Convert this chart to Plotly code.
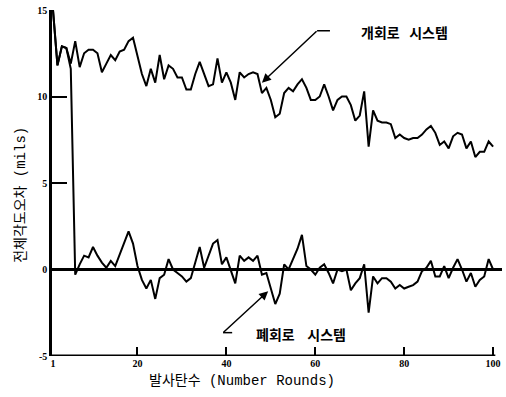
import plotly.graph_objects as go

rounds = list(range(1, 101))

open_loop = [15.0, 11.8, 12.9, 12.8, 11.9, 13.2, 11.7, 12.5, 12.7, 12.7,
             12.5, 11.4, 11.9, 12.4, 12.1, 12.6, 12.7, 13.2, 13.4, 12.3,
             11.3, 10.6, 11.6, 10.8, 12.4, 11.0, 11.8, 11.6, 11.1, 11.1,
             10.4, 10.4, 11.3, 12.0, 11.3, 10.6, 10.7, 12.2, 10.8, 11.4,
             10.8, 9.8, 11.4, 11.1, 11.3, 11.4, 11.3, 10.2, 10.5, 9.8,
             8.8, 9.0, 10.2, 10.5, 10.3, 10.7, 11.0, 10.5, 9.8, 9.8,
             10.0, 10.7, 10.0, 9.2, 9.8, 10.0, 10.0, 9.5, 8.6, 8.9,
             10.3, 7.1, 9.2, 8.6, 8.5, 8.5, 8.4, 7.6, 7.8, 7.6,
             7.5, 7.6, 7.6, 7.8, 8.1, 8.3, 7.9, 7.2, 7.4, 7.0,
             7.7, 7.9, 7.8, 7.0, 7.4, 6.5, 6.8, 6.8, 7.4, 7.1]

closed_loop = [15.0, 11.8, 12.9, 12.8, 11.6, -0.3, 0.3, 0.8, 0.7, 1.3,
               0.8, 0.4, 0.1, 0.5, 0.2, 0.9, 1.6, 2.2, 1.5, 0.2,
               -0.6, -1.1, -0.6, -1.7, -0.5, -0.3, 0.6, 0.0, -0.2, -0.4,
               -0.7, -0.5, 0.4, 1.3, 0.1, 0.8, 1.5, 1.7, 0.3, 0.7,
               0.0, -0.8, 0.8, 0.5, 0.7, 0.5, 0.8, -0.3, -0.2, -1.1,
               -2.0, -1.4, 0.3, 0.0, 0.6, 1.2, 2.0, 0.2, 0.0, -0.3,
               0.1, 0.3, -0.2, -0.8, 0.0, -0.1, 0.0, -1.2, -0.8, -0.5,
               0.3, -2.5, -0.4, -0.8, -0.5, -0.5, -0.7, -1.1, -0.9, -1.1,
               -1.0, -0.9, -0.7, -0.1, 0.1, 0.5, -0.4, -0.4, 0.2, -0.5,
               0.1, 0.6, 0.0, -0.7, -0.2, -1.0, -0.6, -0.4, 0.6, 0.0]

x_ticks = [1, 20, 40, 60, 80, 100]
y_ticks = [-5, 0, 5, 10, 15]

open_label = "개회로   시스템"
closed_label = "폐회로    시스템"
x_title = "발사탄수 (Number Rounds)"
y_title = "전체각도오차 (mils)"

fig = go.Figure()
fig.add_trace(go.Scatter(x=rounds, y=open_loop, mode="lines",
                         line=dict(color="black", width=2), name=open_label,
                         showlegend=False, hoverinfo="skip"))
fig.add_trace(go.Scatter(x=rounds, y=closed_loop, mode="lines",
                         line=dict(color="black", width=2), name=closed_label,
                         showlegend=False, hoverinfo="skip"))

tickfont = dict(family="Liberation Serif", size=10, color="black", weight="bold")

fig.update_layout(
    width=506, height=397,
    margin=dict(l=52, r=4, t=6, b=41),
    paper_bgcolor="white", plot_bgcolor="white",
    xaxis=dict(range=[0.775, 102.0], tickvals=x_ticks, ticktext=[str(v) for v in x_ticks],
               ticks="inside", ticklen=9, tickwidth=1.5, tickcolor="black",
               showgrid=False, zeroline=False, showline=False, tickfont=tickfont),
    yaxis=dict(range=[-5, 15], tickvals=y_ticks, ticktext=[str(v) for v in y_ticks],
               ticks="inside", ticklen=15, tickwidth=2, tickcolor="black",
               showgrid=False, zeroline=True, zerolinecolor="black", zerolinewidth=2.5,
               showline=True, linecolor="black", linewidth=2.5, tickfont=tickfont),
)

# bottom axis line (stops at the last round)
fig.add_shape(type="line", xref="x", yref="y", x0=0.775, x1=100.5, y0=-5, y1=-5,
              line=dict(color="black", width=3))

arrow_font = dict(size=1, color="black")
label_font = dict(family="Noto Sans CJK KR", size=14, color="black", weight="bold")

# open loop annotation
fig.add_annotation(x=48.0, y=10.8, ax=60.4, ay=13.8, axref="x", ayref="y",
                   xref="x", yref="y", text="", showarrow=True, borderpad=0,
                   font=arrow_font,
                   arrowhead=2, arrowsize=1.2, arrowwidth=1.5, arrowcolor="black")
fig.add_shape(type="line", xref="x", yref="y", x0=60.4, x1=63.3, y0=13.8, y1=13.8,
              line=dict(color="black", width=1.5))
fig.add_annotation(x=80.0, y=13.7, xref="x", yref="y", text=open_label, showarrow=False,
                   font=label_font)

# closed loop annotation
fig.add_annotation(x=49.4, y=-1.25, ax=39.25, ay=-3.65, axref="x", ayref="y",
                   xref="x", yref="y", text="", showarrow=True, borderpad=0,
                   font=arrow_font,
                   arrowhead=2, arrowsize=1.2, arrowwidth=1.5, arrowcolor="black")
fig.add_shape(type="line", xref="x", yref="y", x0=39.25, x1=41.3, y0=-3.65, y1=-3.65,
              line=dict(color="black", width=1.5))
fig.add_annotation(x=56.8, y=-3.7, xref="x", yref="y", text=closed_label, showarrow=False,
                   font=label_font)

# axis titles
fig.add_annotation(x=(242 - 52) / 450, y=(356 - 381) / 350, xref="paper", yref="paper",
                   xanchor="center", yanchor="middle",
                   text=x_title, showarrow=False,
                   font=dict(family="Liberation Mono, Noto Sans CJK KR", size=14, color="black"))
fig.add_annotation(x=(21 - 52) / 450, y=(356 - 193) / 350, xref="paper", yref="paper",
                   xanchor="center", yanchor="middle",
                   text=y_title, showarrow=False, textangle=-90,
                   font=dict(family="Liberation Mono, Noto Sans CJK KR", size=14, color="black"))

fig.write_html("out.html", config={"displayModeBar": False},
               post_script="document.body.style.margin='0px';")
